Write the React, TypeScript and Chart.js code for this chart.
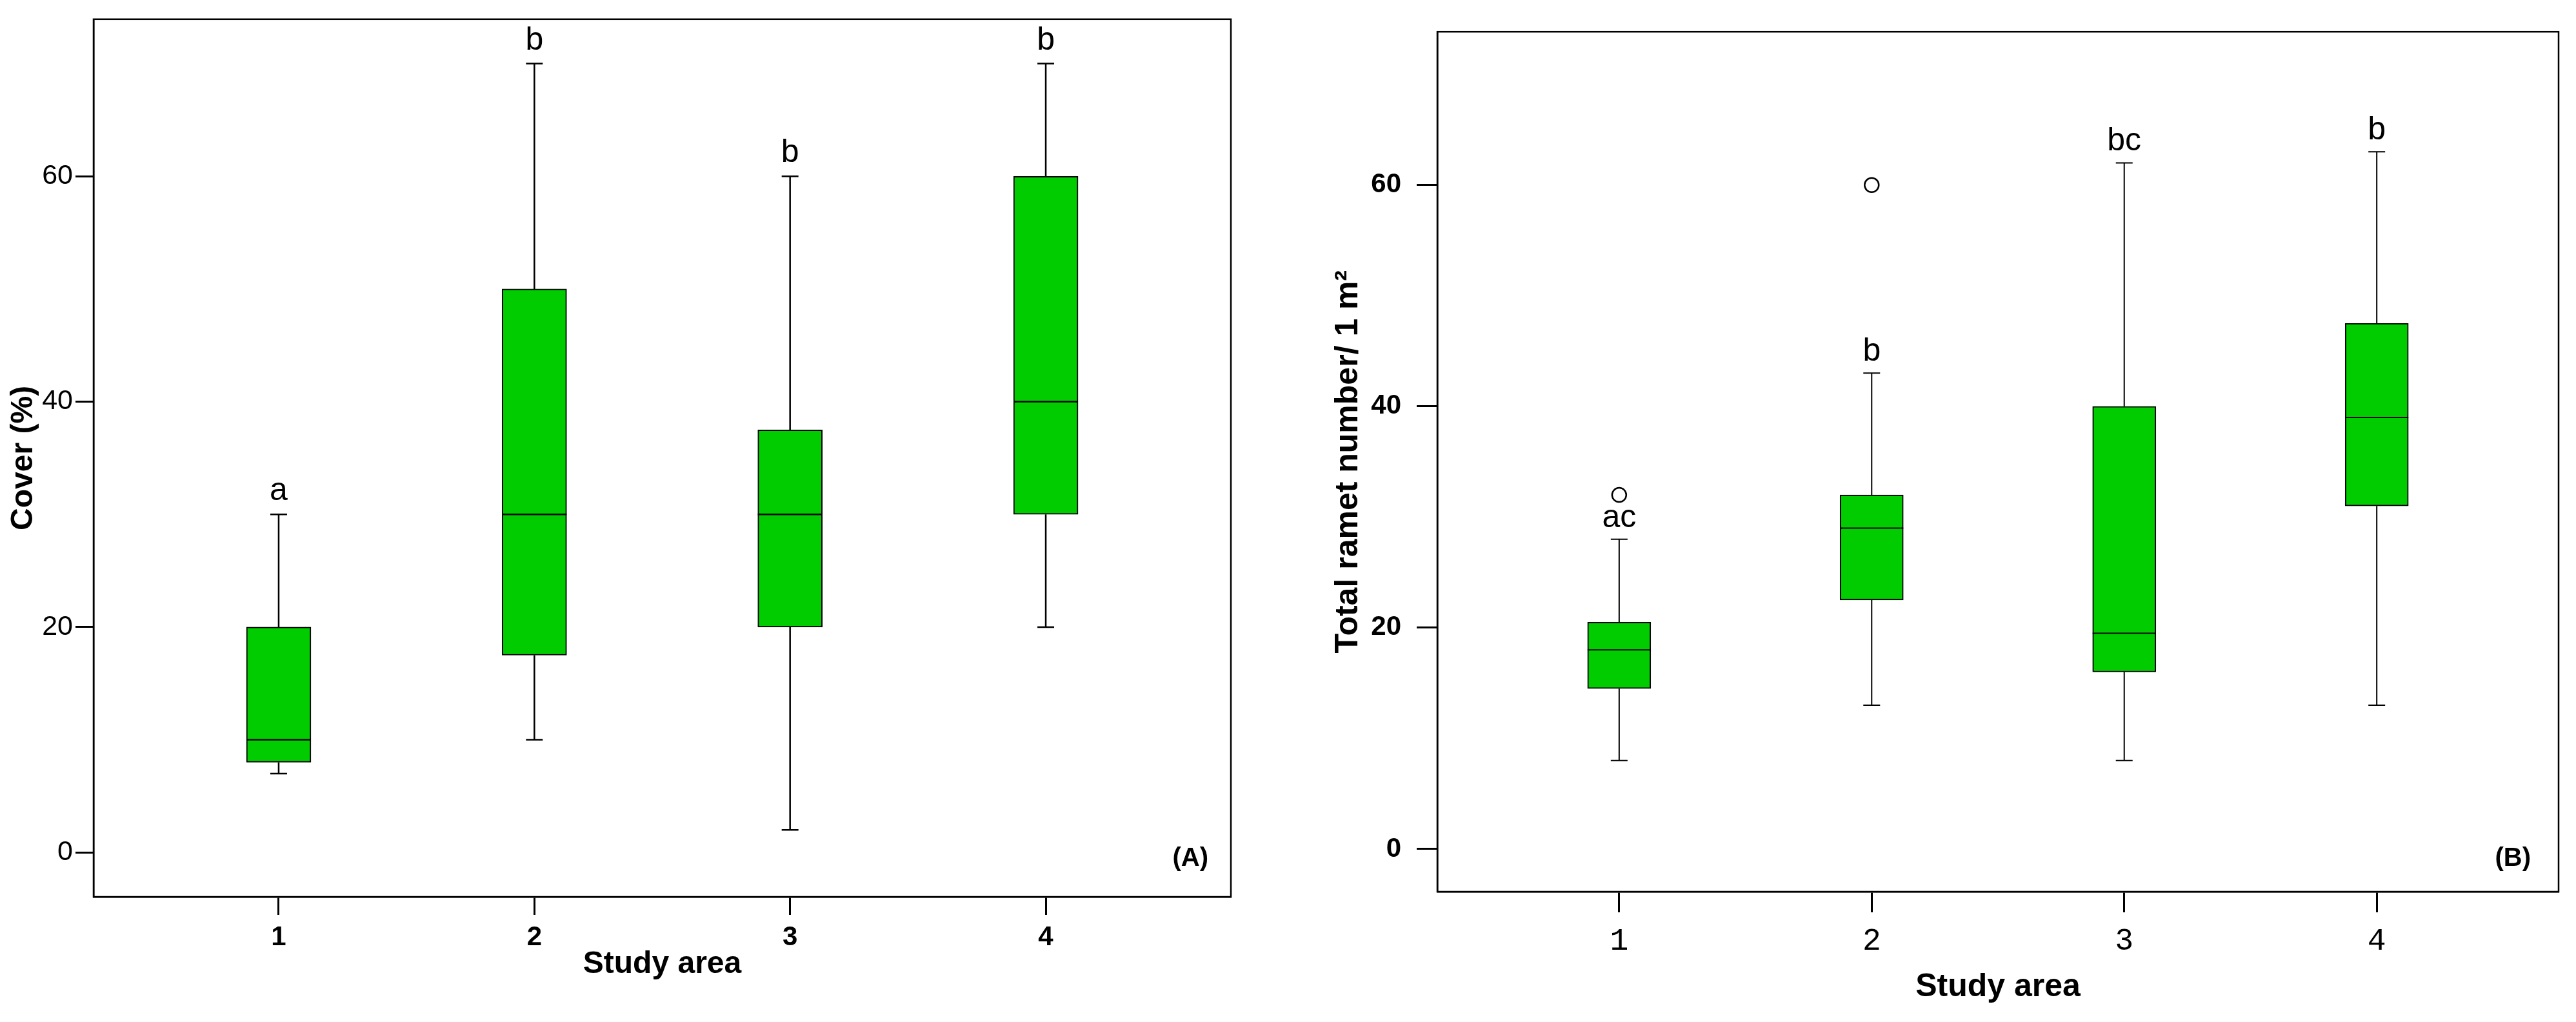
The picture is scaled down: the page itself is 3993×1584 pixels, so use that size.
import React, { useEffect, useRef } from 'react';
import { Chart, registerables } from 'chart.js';

Chart.register(...registerables);

// ---------- data ----------
const areaLabels = ['1', '2', '3', '4'];
const areaPositions = [1, 2, 3, 4];

// Panel A: Cover (%)
const coverMin = [7, 10, 2, 20];
const coverQ1 = [8, 17.5, 20, 30];
const coverMedian = [10, 30, 30, 40];
const coverQ3 = [20, 50, 37.5, 60];
const coverMax = [30, 70, 60, 70];
const coverLetters = ['a', 'b', 'b', 'b'];
const coverTicks = [0, 20, 40, 60];

// Panel B: Total ramet number / 1 m²
const rametMin = [8, 13, 8, 13];
const rametQ1 = [14.5, 22.5, 16, 31];
const rametMedian = [18, 29, 19.5, 39];
const rametQ3 = [20.5, 32, 40, 47.5];
const rametMax = [28, 43, 62, 63];
const rametLetters = ['ac', 'b', 'bc', 'b'];
const rametOutlierArea = [1, 2];
const rametOutlierValue = [32, 60];
const rametTicks = [0, 20, 40, 60];

const GREEN = '#00CC00';
const SANS = "'Liberation Sans', Arial, Helvetica, sans-serif";

type PanelCfg = {
  id: string;
  width: number;
  height: number;
  padding: { top: number; right: number; left: number; bottom: number };
  yAxisWidth: number;
  xAxisHeight: number;
  yMin: number;
  yMax: number;
  xMin: number;
  xMax: number;
  yTicks: number[];
  min: number[];
  q1: number[];
  median: number[];
  q3: number[];
  max: number[];
  letters: string[];
  outX: number[];
  outY: number[];
  barThickness: number;
  tickLength: number;
  whiskerWidth: number;
  capWidth: number;
  yTitle: string;
  yTitleFont: any;
  yTitlePad: number;
  xTitleFont: any;
  xTitlePad: number;
  yTickFont: any;
  yTickPad: number;
  xTickFont: any;
  xTickPad: number;
  letterFont: string;
  letterGap: number;
  panelLabel: string;
  panelDx: number;
  panelDy: number;
};

function makeBoxPlugin(c: PanelCfg) {
  return {
    id: 'boxParts' + c.id,
    afterDatasetsDraw(chart: any) {
      const { ctx, chartArea } = chart;
      const x = chart.scales.x;
      const y = chart.scales.y;
      const meta = chart.getDatasetMeta(0);
      ctx.save();
      ctx.strokeStyle = '#000';
      ctx.fillStyle = '#000';
      ctx.lineWidth = c.whiskerWidth;
      ctx.font = c.letterFont;
      ctx.textAlign = 'center';
      ctx.textBaseline = 'alphabetic';
      areaPositions.forEach((p, i) => {
        const cx = x.getPixelForValue(p);
        const bar = meta.data[i];
        const half = bar ? bar.width / 2 : c.barThickness / 2;
        const yMn = y.getPixelForValue(c.min[i]);
        const yQ1 = y.getPixelForValue(c.q1[i]);
        const yMd = y.getPixelForValue(c.median[i]);
        const yQ3 = y.getPixelForValue(c.q3[i]);
        const yMx = y.getPixelForValue(c.max[i]);
        const cap = c.capWidth / 2;
        ctx.beginPath();
        ctx.moveTo(cx, yQ3);
        ctx.lineTo(cx, yMx);
        ctx.moveTo(cx - cap, yMx);
        ctx.lineTo(cx + cap, yMx);
        ctx.moveTo(cx, yQ1);
        ctx.lineTo(cx, yMn);
        ctx.moveTo(cx - cap, yMn);
        ctx.lineTo(cx + cap, yMn);
        ctx.moveTo(cx - half, yMd);
        ctx.lineTo(cx + half, yMd);
        ctx.stroke();
        ctx.fillText(c.letters[i], cx, yMx - c.letterGap);
      });
      // frame
      ctx.lineWidth = 2.5;
      ctx.strokeRect(chartArea.left, chartArea.top, chartArea.right - chartArea.left, chartArea.bottom - chartArea.top);
      // panel label
      ctx.font = `bold 40px ${SANS}`;
      ctx.textAlign = 'right';
      ctx.textBaseline = 'middle';
      ctx.fillText(c.panelLabel, chartArea.right - c.panelDx, chartArea.bottom - c.panelDy);
      ctx.restore();
    },
  };
}

function Panel({ c, left }: { c: PanelCfg; left: number }) {
  const ref = useRef<HTMLCanvasElement | null>(null);
  useEffect(() => {
    if (!ref.current) return;
    const boxData = areaPositions.map((p, i) => ({ x: p, y: [c.q1[i], c.q3[i]] }));
    const outData = c.outX.map((p, i) => ({ x: p, y: c.outY[i] }));
    const datasets: any[] = [
      {
        type: 'bar',
        data: boxData,
        backgroundColor: GREEN,
        borderColor: '#000',
        borderWidth: 2,
        borderSkipped: false,
        barThickness: c.barThickness,
        order: 2,
      },
    ];
    if (outData.length) {
      datasets.push({
        type: 'scatter',
        data: outData,
        pointRadius: 11,
        pointHoverRadius: 11,
        pointBorderWidth: 2.5,
        pointBackgroundColor: '#fff',
        pointBorderColor: '#000',
        showLine: false,
        order: 1,
      });
    }
    const chart = new Chart(ref.current, {
      type: 'bar',
      data: { datasets },
      plugins: [makeBoxPlugin(c)],
      options: {
        animation: false,
        responsive: false,
        devicePixelRatio: 1,
        layout: { padding: c.padding },
        plugins: { legend: { display: false }, tooltip: { enabled: false } },
        scales: {
          x: {
            type: 'linear',
            min: c.xMin,
            max: c.xMax,
            offset: false,
            afterBuildTicks: (s: any) => {
              s.ticks = areaPositions.map((v) => ({ value: v }));
            },
            afterFit: (s: any) => {
              s.height = c.xAxisHeight;
            },
            ticks: {
              autoSkip: false,
              maxRotation: 0,
              color: '#000',
              font: c.xTickFont,
              padding: c.xTickPad,
              callback: (v: any) => areaLabels[areaPositions.indexOf(Number(v))] ?? '',
            },
            grid: {
              display: true,
              offset: false,
              drawOnChartArea: false,
              drawTicks: true,
              tickLength: c.tickLength,
              tickWidth: 3,
              tickColor: '#000',
              color: '#000',
            },
            border: { display: true, color: '#000', width: 2.5 },
            title: {
              display: true,
              text: 'Study area',
              color: '#000',
              font: c.xTitleFont,
              padding: { top: 0, bottom: c.xTitlePad },
            },
          },
          y: {
            type: 'linear',
            min: c.yMin,
            max: c.yMax,
            beginAtZero: false,
            afterBuildTicks: (s: any) => {
              s.ticks = c.yTicks.map((v) => ({ value: v }));
            },
            afterFit: (s: any) => {
              s.width = c.yAxisWidth;
            },
            ticks: {
              color: '#000',
              font: c.yTickFont,
              padding: c.yTickPad,
            },
            grid: {
              display: true,
              drawOnChartArea: false,
              drawTicks: true,
              tickLength: c.tickLength,
              tickWidth: 3,
              tickColor: '#000',
              color: '#000',
            },
            border: { display: true, color: '#000', width: 2.5 },
            title: {
              display: true,
              text: c.yTitle,
              color: '#000',
              font: c.yTitleFont,
              padding: { top: c.yTitlePad, bottom: 0 },
            },
          },
        },
      } as any,
    });
    return () => chart.destroy();
  }, []);
  return (
    <canvas
      ref={ref}
      width={c.width}
      height={c.height}
      style={{ position: 'absolute', left, top: 0, width: c.width, height: c.height, display: 'block' }}
    />
  );
}

const panelA: PanelCfg = {
  id: 'A',
  width: 2000,
  height: 1584,
  padding: { top: 27, right: 92, left: 0, bottom: 0 },
  yAxisWidth: 145,
  xAxisHeight: 194,
  yMin: -3.94,
  yMax: 73.94,
  xMin: 0.276,
  xMax: 4.724,
  yTicks: coverTicks,
  min: coverMin,
  q1: coverQ1,
  median: coverMedian,
  q3: coverQ3,
  max: coverMax,
  letters: coverLetters,
  outX: [],
  outY: [],
  barThickness: 100,
  tickLength: 28,
  whiskerWidth: 2.5,
  capWidth: 26,
  yTitle: 'Cover (%)',
  yTitleFont: { family: SANS, size: 48, weight: 'bold' },
  yTitlePad: 8,
  xTitleFont: { family: SANS, size: 48, weight: 'bold' },
  xTitlePad: 60,
  yTickFont: { family: SANS, size: 43, weight: 'normal' },
  yTickPad: 4,
  xTickFont: { family: SANS, size: 42, weight: 'bold' },
  xTickPad: 10,
  letterFont: `50px ${SANS}`,
  letterGap: 22,
  panelLabel: '(A)',
  panelDx: 35,
  panelDy: 59,
};

const panelB: PanelCfg = {
  id: 'B',
  width: 1993,
  height: 1584,
  padding: { top: 30, right: 27, left: 0, bottom: 0 },
  yAxisWidth: 228,
  xAxisHeight: 202,
  yMin: -3.85,
  yMax: 73.85,
  xMin: 0.28,
  xMax: 4.72,
  yTicks: rametTicks,
  min: rametMin,
  q1: rametQ1,
  median: rametMedian,
  q3: rametQ3,
  max: rametMax,
  letters: rametLetters,
  outX: rametOutlierArea,
  outY: rametOutlierValue,
  barThickness: 98,
  tickLength: 32,
  whiskerWidth: 2,
  capWidth: 26,
  yTitle: 'Total ramet number/ 1 m²',
  yTitleFont: { family: SANS, size: 50, weight: 'bold' },
  yTitlePad: 60,
  xTitleFont: { family: SANS, size: 50, weight: 'bold' },
  xTitlePad: 24,
  yTickFont: { family: "'Liberation Sans Narrow', 'Liberation Sans', Arial, sans-serif", size: 42, weight: 'bold' },
  yTickPad: 24,
  xTickFont: { family: "'Liberation Mono', 'DejaVu Sans Mono', monospace", size: 48, weight: 'normal' },
  xTickPad: 16,
  letterFont: `50px ${SANS}`,
  letterGap: 19,
  panelLabel: '(B)',
  panelDx: 43,
  panelDy: 51,
};

export default function App() {
  return (
    <div style={{ position: 'absolute', left: 0, top: 0, width: 3993, height: 1584, background: '#fff', overflow: 'hidden' }}>
      <Panel c={panelA} left={0} />
      <Panel c={panelB} left={2000} />
    </div>
  );
}
